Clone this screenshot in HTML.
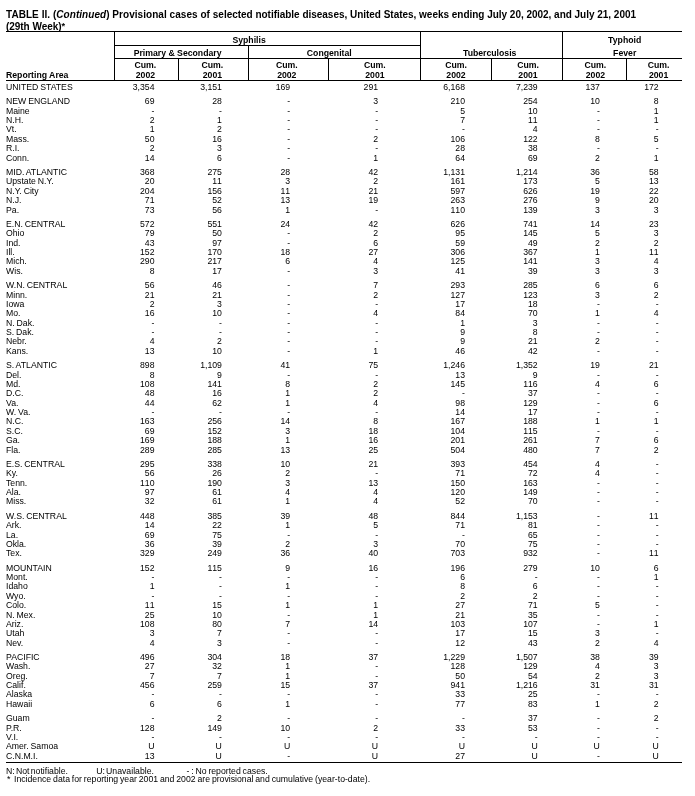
<!DOCTYPE html>
<html><head><meta charset="utf-8"><title>TABLE II</title>
<style>

html,body{margin:0;padding:0;background:#fff;}
body{width:695px;height:796px;position:relative;overflow:hidden;will-change:transform;font-family:"Liberation Sans",sans-serif;color:#000;}
.t{position:absolute;white-space:pre;}
.b{font-size:8.7px;line-height:10.0px;height:10.0px;color:#000;}
.l{left:6.0px;word-spacing:-0.55px;}
.n{text-align:right;width:60px;font-kerning:none;}
.u{margin-left:0px;}
.h{font-weight:bold;font-size:8.7px;line-height:10px;text-align:center;}
.hl{position:absolute;background:#000;height:1px;}
.vl{position:absolute;background:#000;width:1px;}
.title{font-weight:bold;font-size:10px;line-height:11px;}
.f{font-size:8.7px;line-height:10px;word-spacing:-0.55px;}

.c0{left:94.50px;}
.c1{left:161.90px;}
.c2{left:230.20px;}
.c3{left:318.10px;}
.c4{left:405.00px;}
.c5{left:477.70px;}
.c6{left:539.90px;}
.c7{left:598.70px;}
</style></head><body>
<div class="t title" style="left:6px;top:8.5px"><span style="letter-spacing:0.045px">TABLE II. (<i>Continued</i>) Provisional cases of </span><span style="letter-spacing:-0.022px">selected notifiable diseases, United States, weeks ending July 20, 2002, and July 21, 2001</span></div>
<div class="t title" style="left:6px;top:20.5px"><span style="letter-spacing:-0.04px">(29th Week)</span><span style="font-size:9.2px;position:relative;top:-0.6px">*</span></div>
<div class="hl" style="left:6.00px;width:676.30px;top:31.20px;height:1.00px"></div>
<div class="hl" style="left:114.20px;width:306.80px;top:45.00px;height:1.00px"></div>
<div class="hl" style="left:114.20px;width:568.10px;top:58.30px;height:1.00px"></div>
<div class="hl" style="left:6.00px;width:676.30px;top:79.60px;height:1.00px"></div>
<div class="hl" style="left:6.00px;width:676.30px;top:762.00px;height:1.00px"></div>
<div class="vl" style="left:113.70px;top:31.20px;height:49.00px;width:1.00px"></div>
<div class="vl" style="left:420.40px;top:31.20px;height:49.00px;width:1.00px"></div>
<div class="vl" style="left:562.20px;top:31.20px;height:49.00px;width:1.00px"></div>
<div class="vl" style="left:247.60px;top:45.00px;height:35.20px;width:1.00px"></div>
<div class="vl" style="left:177.50px;top:58.30px;height:21.90px;width:1.00px"></div>
<div class="vl" style="left:328.10px;top:58.30px;height:21.90px;width:1.00px"></div>
<div class="vl" style="left:490.90px;top:58.30px;height:21.90px;width:1.00px"></div>
<div class="vl" style="left:626.30px;top:58.30px;height:21.90px;width:1.00px"></div>
<div class="t h" style="left:179.10px;width:140px;top:34.89px">Syphilis</div>
<div class="t h" style="left:107.60px;width:140px;top:48.19px">Primary &amp; Secondary</div>
<div class="t h" style="left:259.30px;width:140px;top:48.19px">Congenital</div>
<div class="t h" style="left:419.70px;width:140px;top:48.19px">Tuberculosis</div>
<div class="t h" style="left:554.70px;width:140px;top:35.49px">Typhoid</div>
<div class="t h" style="left:554.70px;width:140px;top:48.19px">Fever</div>
<div class="t h" style="left:115.40px;width:60px;top:60.39px">Cum.</div>
<div class="t h" style="left:115.40px;width:60px;top:69.59px">2002</div>
<div class="t h" style="left:182.40px;width:60px;top:60.39px">Cum.</div>
<div class="t h" style="left:182.40px;width:60px;top:69.59px">2001</div>
<div class="t h" style="left:256.80px;width:60px;top:60.39px">Cum.</div>
<div class="t h" style="left:256.80px;width:60px;top:69.59px">2002</div>
<div class="t h" style="left:344.90px;width:60px;top:60.39px">Cum.</div>
<div class="t h" style="left:344.90px;width:60px;top:69.59px">2001</div>
<div class="t h" style="left:426.00px;width:60px;top:60.39px">Cum.</div>
<div class="t h" style="left:426.00px;width:60px;top:69.59px">2002</div>
<div class="t h" style="left:498.00px;width:60px;top:60.39px">Cum.</div>
<div class="t h" style="left:498.00px;width:60px;top:69.59px">2001</div>
<div class="t h" style="left:565.40px;width:60px;top:60.39px">Cum.</div>
<div class="t h" style="left:565.40px;width:60px;top:69.59px">2002</div>
<div class="t h" style="left:628.60px;width:60px;top:60.39px">Cum.</div>
<div class="t h" style="left:628.60px;width:60px;top:69.59px">2001</div>
<div class="t h" style="left:6px;top:69.59px;text-align:left">Reporting Area</div>
<div class="t b l" style="top:81.99px">UNITED STATES</div>
<div class="t b n c0" style="top:81.99px">3,354</div>
<div class="t b n c1" style="top:81.99px">3,151</div>
<div class="t b n c2" style="top:81.99px">169</div>
<div class="t b n c3" style="top:81.99px">291</div>
<div class="t b n c4" style="top:81.99px">6,168</div>
<div class="t b n c5" style="top:81.99px">7,239</div>
<div class="t b n c6" style="top:81.99px">137</div>
<div class="t b n c7" style="top:81.99px">172</div>
<div class="t b l" style="top:96.24px">NEW ENGLAND</div>
<div class="t b n c0" style="top:96.24px">69</div>
<div class="t b n c1" style="top:96.24px">28</div>
<div class="t b n c2" style="top:96.24px">-</div>
<div class="t b n c3" style="top:96.24px">3</div>
<div class="t b n c4" style="top:96.24px">210</div>
<div class="t b n c5" style="top:96.24px">254</div>
<div class="t b n c6" style="top:96.24px">10</div>
<div class="t b n c7" style="top:96.24px">8</div>
<div class="t b l" style="top:105.64px">Maine</div>
<div class="t b n c0" style="top:105.64px">-</div>
<div class="t b n c1" style="top:105.64px">-</div>
<div class="t b n c2" style="top:105.64px">-</div>
<div class="t b n c3" style="top:105.64px">-</div>
<div class="t b n c4" style="top:105.64px">5</div>
<div class="t b n c5" style="top:105.64px">10</div>
<div class="t b n c6" style="top:105.64px">-</div>
<div class="t b n c7" style="top:105.64px">1</div>
<div class="t b l" style="top:115.04px">N.H.</div>
<div class="t b n c0" style="top:115.04px">2</div>
<div class="t b n c1" style="top:115.04px">1</div>
<div class="t b n c2" style="top:115.04px">-</div>
<div class="t b n c3" style="top:115.04px">-</div>
<div class="t b n c4" style="top:115.04px">7</div>
<div class="t b n c5" style="top:115.04px">11</div>
<div class="t b n c6" style="top:115.04px">-</div>
<div class="t b n c7" style="top:115.04px">1</div>
<div class="t b l" style="top:124.44px">Vt.</div>
<div class="t b n c0" style="top:124.44px">1</div>
<div class="t b n c1" style="top:124.44px">2</div>
<div class="t b n c2" style="top:124.44px">-</div>
<div class="t b n c3" style="top:124.44px">-</div>
<div class="t b n c4" style="top:124.44px">-</div>
<div class="t b n c5" style="top:124.44px">4</div>
<div class="t b n c6" style="top:124.44px">-</div>
<div class="t b n c7" style="top:124.44px">-</div>
<div class="t b l" style="top:133.84px">Mass.</div>
<div class="t b n c0" style="top:133.84px">50</div>
<div class="t b n c1" style="top:133.84px">16</div>
<div class="t b n c2" style="top:133.84px">-</div>
<div class="t b n c3" style="top:133.84px">2</div>
<div class="t b n c4" style="top:133.84px">106</div>
<div class="t b n c5" style="top:133.84px">122</div>
<div class="t b n c6" style="top:133.84px">8</div>
<div class="t b n c7" style="top:133.84px">5</div>
<div class="t b l" style="top:143.24px">R.I.</div>
<div class="t b n c0" style="top:143.24px">2</div>
<div class="t b n c1" style="top:143.24px">3</div>
<div class="t b n c2" style="top:143.24px">-</div>
<div class="t b n c3" style="top:143.24px">-</div>
<div class="t b n c4" style="top:143.24px">28</div>
<div class="t b n c5" style="top:143.24px">38</div>
<div class="t b n c6" style="top:143.24px">-</div>
<div class="t b n c7" style="top:143.24px">-</div>
<div class="t b l" style="top:152.64px">Conn.</div>
<div class="t b n c0" style="top:152.64px">14</div>
<div class="t b n c1" style="top:152.64px">6</div>
<div class="t b n c2" style="top:152.64px">-</div>
<div class="t b n c3" style="top:152.64px">1</div>
<div class="t b n c4" style="top:152.64px">64</div>
<div class="t b n c5" style="top:152.64px">69</div>
<div class="t b n c6" style="top:152.64px">2</div>
<div class="t b n c7" style="top:152.64px">1</div>
<div class="t b l" style="top:166.89px">MID. ATLANTIC</div>
<div class="t b n c0" style="top:166.89px">368</div>
<div class="t b n c1" style="top:166.89px">275</div>
<div class="t b n c2" style="top:166.89px">28</div>
<div class="t b n c3" style="top:166.89px">42</div>
<div class="t b n c4" style="top:166.89px">1,131</div>
<div class="t b n c5" style="top:166.89px">1,214</div>
<div class="t b n c6" style="top:166.89px">36</div>
<div class="t b n c7" style="top:166.89px">58</div>
<div class="t b l" style="top:176.29px">Upstate N.Y.</div>
<div class="t b n c0" style="top:176.29px">20</div>
<div class="t b n c1" style="top:176.29px">11</div>
<div class="t b n c2" style="top:176.29px">3</div>
<div class="t b n c3" style="top:176.29px">2</div>
<div class="t b n c4" style="top:176.29px">161</div>
<div class="t b n c5" style="top:176.29px">173</div>
<div class="t b n c6" style="top:176.29px">5</div>
<div class="t b n c7" style="top:176.29px">13</div>
<div class="t b l" style="top:185.69px">N.Y. City</div>
<div class="t b n c0" style="top:185.69px">204</div>
<div class="t b n c1" style="top:185.69px">156</div>
<div class="t b n c2" style="top:185.69px">11</div>
<div class="t b n c3" style="top:185.69px">21</div>
<div class="t b n c4" style="top:185.69px">597</div>
<div class="t b n c5" style="top:185.69px">626</div>
<div class="t b n c6" style="top:185.69px">19</div>
<div class="t b n c7" style="top:185.69px">22</div>
<div class="t b l" style="top:195.09px">N.J.</div>
<div class="t b n c0" style="top:195.09px">71</div>
<div class="t b n c1" style="top:195.09px">52</div>
<div class="t b n c2" style="top:195.09px">13</div>
<div class="t b n c3" style="top:195.09px">19</div>
<div class="t b n c4" style="top:195.09px">263</div>
<div class="t b n c5" style="top:195.09px">276</div>
<div class="t b n c6" style="top:195.09px">9</div>
<div class="t b n c7" style="top:195.09px">20</div>
<div class="t b l" style="top:205.49px">Pa.</div>
<div class="t b n c0" style="top:205.49px">73</div>
<div class="t b n c1" style="top:205.49px">56</div>
<div class="t b n c2" style="top:205.49px">1</div>
<div class="t b n c3" style="top:205.49px">-</div>
<div class="t b n c4" style="top:205.49px">110</div>
<div class="t b n c5" style="top:205.49px">139</div>
<div class="t b n c6" style="top:205.49px">3</div>
<div class="t b n c7" style="top:205.49px">3</div>
<div class="t b l" style="top:218.74px">E.N. CENTRAL</div>
<div class="t b n c0" style="top:218.74px">572</div>
<div class="t b n c1" style="top:218.74px">551</div>
<div class="t b n c2" style="top:218.74px">24</div>
<div class="t b n c3" style="top:218.74px">42</div>
<div class="t b n c4" style="top:218.74px">626</div>
<div class="t b n c5" style="top:218.74px">741</div>
<div class="t b n c6" style="top:218.74px">14</div>
<div class="t b n c7" style="top:218.74px">23</div>
<div class="t b l" style="top:228.14px">Ohio</div>
<div class="t b n c0" style="top:228.14px">79</div>
<div class="t b n c1" style="top:228.14px">50</div>
<div class="t b n c2" style="top:228.14px">-</div>
<div class="t b n c3" style="top:228.14px">2</div>
<div class="t b n c4" style="top:228.14px">95</div>
<div class="t b n c5" style="top:228.14px">145</div>
<div class="t b n c6" style="top:228.14px">5</div>
<div class="t b n c7" style="top:228.14px">3</div>
<div class="t b l" style="top:237.54px">Ind.</div>
<div class="t b n c0" style="top:237.54px">43</div>
<div class="t b n c1" style="top:237.54px">97</div>
<div class="t b n c2" style="top:237.54px">-</div>
<div class="t b n c3" style="top:237.54px">6</div>
<div class="t b n c4" style="top:237.54px">59</div>
<div class="t b n c5" style="top:237.54px">49</div>
<div class="t b n c6" style="top:237.54px">2</div>
<div class="t b n c7" style="top:237.54px">2</div>
<div class="t b l" style="top:246.94px">Ill.</div>
<div class="t b n c0" style="top:246.94px">152</div>
<div class="t b n c1" style="top:246.94px">170</div>
<div class="t b n c2" style="top:246.94px">18</div>
<div class="t b n c3" style="top:246.94px">27</div>
<div class="t b n c4" style="top:246.94px">306</div>
<div class="t b n c5" style="top:246.94px">367</div>
<div class="t b n c6" style="top:246.94px">1</div>
<div class="t b n c7" style="top:246.94px">11</div>
<div class="t b l" style="top:256.34px">Mich.</div>
<div class="t b n c0" style="top:256.34px">290</div>
<div class="t b n c1" style="top:256.34px">217</div>
<div class="t b n c2" style="top:256.34px">6</div>
<div class="t b n c3" style="top:256.34px">4</div>
<div class="t b n c4" style="top:256.34px">125</div>
<div class="t b n c5" style="top:256.34px">141</div>
<div class="t b n c6" style="top:256.34px">3</div>
<div class="t b n c7" style="top:256.34px">4</div>
<div class="t b l" style="top:265.74px">Wis.</div>
<div class="t b n c0" style="top:265.74px">8</div>
<div class="t b n c1" style="top:265.74px">17</div>
<div class="t b n c2" style="top:265.74px">-</div>
<div class="t b n c3" style="top:265.74px">3</div>
<div class="t b n c4" style="top:265.74px">41</div>
<div class="t b n c5" style="top:265.74px">39</div>
<div class="t b n c6" style="top:265.74px">3</div>
<div class="t b n c7" style="top:265.74px">3</div>
<div class="t b l" style="top:279.99px">W.N. CENTRAL</div>
<div class="t b n c0" style="top:279.99px">56</div>
<div class="t b n c1" style="top:279.99px">46</div>
<div class="t b n c2" style="top:279.99px">-</div>
<div class="t b n c3" style="top:279.99px">7</div>
<div class="t b n c4" style="top:279.99px">293</div>
<div class="t b n c5" style="top:279.99px">285</div>
<div class="t b n c6" style="top:279.99px">6</div>
<div class="t b n c7" style="top:279.99px">6</div>
<div class="t b l" style="top:290.39px">Minn.</div>
<div class="t b n c0" style="top:290.39px">21</div>
<div class="t b n c1" style="top:290.39px">21</div>
<div class="t b n c2" style="top:290.39px">-</div>
<div class="t b n c3" style="top:290.39px">2</div>
<div class="t b n c4" style="top:290.39px">127</div>
<div class="t b n c5" style="top:290.39px">123</div>
<div class="t b n c6" style="top:290.39px">3</div>
<div class="t b n c7" style="top:290.39px">2</div>
<div class="t b l" style="top:298.79px">Iowa</div>
<div class="t b n c0" style="top:298.79px">2</div>
<div class="t b n c1" style="top:298.79px">3</div>
<div class="t b n c2" style="top:298.79px">-</div>
<div class="t b n c3" style="top:298.79px">-</div>
<div class="t b n c4" style="top:298.79px">17</div>
<div class="t b n c5" style="top:298.79px">18</div>
<div class="t b n c6" style="top:298.79px">-</div>
<div class="t b n c7" style="top:298.79px">-</div>
<div class="t b l" style="top:308.19px">Mo.</div>
<div class="t b n c0" style="top:308.19px">16</div>
<div class="t b n c1" style="top:308.19px">10</div>
<div class="t b n c2" style="top:308.19px">-</div>
<div class="t b n c3" style="top:308.19px">4</div>
<div class="t b n c4" style="top:308.19px">84</div>
<div class="t b n c5" style="top:308.19px">70</div>
<div class="t b n c6" style="top:308.19px">1</div>
<div class="t b n c7" style="top:308.19px">4</div>
<div class="t b l" style="top:317.59px">N. Dak.</div>
<div class="t b n c0" style="top:317.59px">-</div>
<div class="t b n c1" style="top:317.59px">-</div>
<div class="t b n c2" style="top:317.59px">-</div>
<div class="t b n c3" style="top:317.59px">-</div>
<div class="t b n c4" style="top:317.59px">1</div>
<div class="t b n c5" style="top:317.59px">3</div>
<div class="t b n c6" style="top:317.59px">-</div>
<div class="t b n c7" style="top:317.59px">-</div>
<div class="t b l" style="top:326.99px">S. Dak.</div>
<div class="t b n c0" style="top:326.99px">-</div>
<div class="t b n c1" style="top:326.99px">-</div>
<div class="t b n c2" style="top:326.99px">-</div>
<div class="t b n c3" style="top:326.99px">-</div>
<div class="t b n c4" style="top:326.99px">9</div>
<div class="t b n c5" style="top:326.99px">8</div>
<div class="t b n c6" style="top:326.99px">-</div>
<div class="t b n c7" style="top:326.99px">-</div>
<div class="t b l" style="top:336.39px">Nebr.</div>
<div class="t b n c0" style="top:336.39px">4</div>
<div class="t b n c1" style="top:336.39px">2</div>
<div class="t b n c2" style="top:336.39px">-</div>
<div class="t b n c3" style="top:336.39px">-</div>
<div class="t b n c4" style="top:336.39px">9</div>
<div class="t b n c5" style="top:336.39px">21</div>
<div class="t b n c6" style="top:336.39px">2</div>
<div class="t b n c7" style="top:336.39px">-</div>
<div class="t b l" style="top:345.79px">Kans.</div>
<div class="t b n c0" style="top:345.79px">13</div>
<div class="t b n c1" style="top:345.79px">10</div>
<div class="t b n c2" style="top:345.79px">-</div>
<div class="t b n c3" style="top:345.79px">1</div>
<div class="t b n c4" style="top:345.79px">46</div>
<div class="t b n c5" style="top:345.79px">42</div>
<div class="t b n c6" style="top:345.79px">-</div>
<div class="t b n c7" style="top:345.79px">-</div>
<div class="t b l" style="top:360.04px">S. ATLANTIC</div>
<div class="t b n c0" style="top:360.04px">898</div>
<div class="t b n c1" style="top:360.04px">1,109</div>
<div class="t b n c2" style="top:360.04px">41</div>
<div class="t b n c3" style="top:360.04px">75</div>
<div class="t b n c4" style="top:360.04px">1,246</div>
<div class="t b n c5" style="top:360.04px">1,352</div>
<div class="t b n c6" style="top:360.04px">19</div>
<div class="t b n c7" style="top:360.04px">21</div>
<div class="t b l" style="top:370.44px">Del.</div>
<div class="t b n c0" style="top:370.44px">8</div>
<div class="t b n c1" style="top:370.44px">9</div>
<div class="t b n c2" style="top:370.44px">-</div>
<div class="t b n c3" style="top:370.44px">-</div>
<div class="t b n c4" style="top:370.44px">13</div>
<div class="t b n c5" style="top:370.44px">9</div>
<div class="t b n c6" style="top:370.44px">-</div>
<div class="t b n c7" style="top:370.44px">-</div>
<div class="t b l" style="top:378.84px">Md.</div>
<div class="t b n c0" style="top:378.84px">108</div>
<div class="t b n c1" style="top:378.84px">141</div>
<div class="t b n c2" style="top:378.84px">8</div>
<div class="t b n c3" style="top:378.84px">2</div>
<div class="t b n c4" style="top:378.84px">145</div>
<div class="t b n c5" style="top:378.84px">116</div>
<div class="t b n c6" style="top:378.84px">4</div>
<div class="t b n c7" style="top:378.84px">6</div>
<div class="t b l" style="top:388.24px">D.C.</div>
<div class="t b n c0" style="top:388.24px">48</div>
<div class="t b n c1" style="top:388.24px">16</div>
<div class="t b n c2" style="top:388.24px">1</div>
<div class="t b n c3" style="top:388.24px">2</div>
<div class="t b n c4" style="top:388.24px">-</div>
<div class="t b n c5" style="top:388.24px">37</div>
<div class="t b n c6" style="top:388.24px">-</div>
<div class="t b n c7" style="top:388.24px">-</div>
<div class="t b l" style="top:397.64px">Va.</div>
<div class="t b n c0" style="top:397.64px">44</div>
<div class="t b n c1" style="top:397.64px">62</div>
<div class="t b n c2" style="top:397.64px">1</div>
<div class="t b n c3" style="top:397.64px">4</div>
<div class="t b n c4" style="top:397.64px">98</div>
<div class="t b n c5" style="top:397.64px">129</div>
<div class="t b n c6" style="top:397.64px">-</div>
<div class="t b n c7" style="top:397.64px">6</div>
<div class="t b l" style="top:407.04px">W. Va.</div>
<div class="t b n c0" style="top:407.04px">-</div>
<div class="t b n c1" style="top:407.04px">-</div>
<div class="t b n c2" style="top:407.04px">-</div>
<div class="t b n c3" style="top:407.04px">-</div>
<div class="t b n c4" style="top:407.04px">14</div>
<div class="t b n c5" style="top:407.04px">17</div>
<div class="t b n c6" style="top:407.04px">-</div>
<div class="t b n c7" style="top:407.04px">-</div>
<div class="t b l" style="top:416.44px">N.C.</div>
<div class="t b n c0" style="top:416.44px">163</div>
<div class="t b n c1" style="top:416.44px">256</div>
<div class="t b n c2" style="top:416.44px">14</div>
<div class="t b n c3" style="top:416.44px">8</div>
<div class="t b n c4" style="top:416.44px">167</div>
<div class="t b n c5" style="top:416.44px">188</div>
<div class="t b n c6" style="top:416.44px">1</div>
<div class="t b n c7" style="top:416.44px">1</div>
<div class="t b l" style="top:425.84px">S.C.</div>
<div class="t b n c0" style="top:425.84px">69</div>
<div class="t b n c1" style="top:425.84px">152</div>
<div class="t b n c2" style="top:425.84px">3</div>
<div class="t b n c3" style="top:425.84px">18</div>
<div class="t b n c4" style="top:425.84px">104</div>
<div class="t b n c5" style="top:425.84px">115</div>
<div class="t b n c6" style="top:425.84px">-</div>
<div class="t b n c7" style="top:425.84px">-</div>
<div class="t b l" style="top:435.24px">Ga.</div>
<div class="t b n c0" style="top:435.24px">169</div>
<div class="t b n c1" style="top:435.24px">188</div>
<div class="t b n c2" style="top:435.24px">1</div>
<div class="t b n c3" style="top:435.24px">16</div>
<div class="t b n c4" style="top:435.24px">201</div>
<div class="t b n c5" style="top:435.24px">261</div>
<div class="t b n c6" style="top:435.24px">7</div>
<div class="t b n c7" style="top:435.24px">6</div>
<div class="t b l" style="top:444.64px">Fla.</div>
<div class="t b n c0" style="top:444.64px">289</div>
<div class="t b n c1" style="top:444.64px">285</div>
<div class="t b n c2" style="top:444.64px">13</div>
<div class="t b n c3" style="top:444.64px">25</div>
<div class="t b n c4" style="top:444.64px">504</div>
<div class="t b n c5" style="top:444.64px">480</div>
<div class="t b n c6" style="top:444.64px">7</div>
<div class="t b n c7" style="top:444.64px">2</div>
<div class="t b l" style="top:458.89px">E.S. CENTRAL</div>
<div class="t b n c0" style="top:458.89px">295</div>
<div class="t b n c1" style="top:458.89px">338</div>
<div class="t b n c2" style="top:458.89px">10</div>
<div class="t b n c3" style="top:458.89px">21</div>
<div class="t b n c4" style="top:458.89px">393</div>
<div class="t b n c5" style="top:458.89px">454</div>
<div class="t b n c6" style="top:458.89px">4</div>
<div class="t b n c7" style="top:458.89px">-</div>
<div class="t b l" style="top:468.29px">Ky.</div>
<div class="t b n c0" style="top:468.29px">56</div>
<div class="t b n c1" style="top:468.29px">26</div>
<div class="t b n c2" style="top:468.29px">2</div>
<div class="t b n c3" style="top:468.29px">-</div>
<div class="t b n c4" style="top:468.29px">71</div>
<div class="t b n c5" style="top:468.29px">72</div>
<div class="t b n c6" style="top:468.29px">4</div>
<div class="t b n c7" style="top:468.29px">-</div>
<div class="t b l" style="top:477.69px">Tenn.</div>
<div class="t b n c0" style="top:477.69px">110</div>
<div class="t b n c1" style="top:477.69px">190</div>
<div class="t b n c2" style="top:477.69px">3</div>
<div class="t b n c3" style="top:477.69px">13</div>
<div class="t b n c4" style="top:477.69px">150</div>
<div class="t b n c5" style="top:477.69px">163</div>
<div class="t b n c6" style="top:477.69px">-</div>
<div class="t b n c7" style="top:477.69px">-</div>
<div class="t b l" style="top:487.09px">Ala.</div>
<div class="t b n c0" style="top:487.09px">97</div>
<div class="t b n c1" style="top:487.09px">61</div>
<div class="t b n c2" style="top:487.09px">4</div>
<div class="t b n c3" style="top:487.09px">4</div>
<div class="t b n c4" style="top:487.09px">120</div>
<div class="t b n c5" style="top:487.09px">149</div>
<div class="t b n c6" style="top:487.09px">-</div>
<div class="t b n c7" style="top:487.09px">-</div>
<div class="t b l" style="top:496.49px">Miss.</div>
<div class="t b n c0" style="top:496.49px">32</div>
<div class="t b n c1" style="top:496.49px">61</div>
<div class="t b n c2" style="top:496.49px">1</div>
<div class="t b n c3" style="top:496.49px">4</div>
<div class="t b n c4" style="top:496.49px">52</div>
<div class="t b n c5" style="top:496.49px">70</div>
<div class="t b n c6" style="top:496.49px">-</div>
<div class="t b n c7" style="top:496.49px">-</div>
<div class="t b l" style="top:510.74px">W.S. CENTRAL</div>
<div class="t b n c0" style="top:510.74px">448</div>
<div class="t b n c1" style="top:510.74px">385</div>
<div class="t b n c2" style="top:510.74px">39</div>
<div class="t b n c3" style="top:510.74px">48</div>
<div class="t b n c4" style="top:510.74px">844</div>
<div class="t b n c5" style="top:510.74px">1,153</div>
<div class="t b n c6" style="top:510.74px">-</div>
<div class="t b n c7" style="top:510.74px">11</div>
<div class="t b l" style="top:520.14px">Ark.</div>
<div class="t b n c0" style="top:520.14px">14</div>
<div class="t b n c1" style="top:520.14px">22</div>
<div class="t b n c2" style="top:520.14px">1</div>
<div class="t b n c3" style="top:520.14px">5</div>
<div class="t b n c4" style="top:520.14px">71</div>
<div class="t b n c5" style="top:520.14px">81</div>
<div class="t b n c6" style="top:520.14px">-</div>
<div class="t b n c7" style="top:520.14px">-</div>
<div class="t b l" style="top:529.54px">La.</div>
<div class="t b n c0" style="top:529.54px">69</div>
<div class="t b n c1" style="top:529.54px">75</div>
<div class="t b n c2" style="top:529.54px">-</div>
<div class="t b n c3" style="top:529.54px">-</div>
<div class="t b n c4" style="top:529.54px">-</div>
<div class="t b n c5" style="top:529.54px">65</div>
<div class="t b n c6" style="top:529.54px">-</div>
<div class="t b n c7" style="top:529.54px">-</div>
<div class="t b l" style="top:538.94px">Okla.</div>
<div class="t b n c0" style="top:538.94px">36</div>
<div class="t b n c1" style="top:538.94px">39</div>
<div class="t b n c2" style="top:538.94px">2</div>
<div class="t b n c3" style="top:538.94px">3</div>
<div class="t b n c4" style="top:538.94px">70</div>
<div class="t b n c5" style="top:538.94px">75</div>
<div class="t b n c6" style="top:538.94px">-</div>
<div class="t b n c7" style="top:538.94px">-</div>
<div class="t b l" style="top:548.34px">Tex.</div>
<div class="t b n c0" style="top:548.34px">329</div>
<div class="t b n c1" style="top:548.34px">249</div>
<div class="t b n c2" style="top:548.34px">36</div>
<div class="t b n c3" style="top:548.34px">40</div>
<div class="t b n c4" style="top:548.34px">703</div>
<div class="t b n c5" style="top:548.34px">932</div>
<div class="t b n c6" style="top:548.34px">-</div>
<div class="t b n c7" style="top:548.34px">11</div>
<div class="t b l" style="top:562.59px">MOUNTAIN</div>
<div class="t b n c0" style="top:562.59px">152</div>
<div class="t b n c1" style="top:562.59px">115</div>
<div class="t b n c2" style="top:562.59px">9</div>
<div class="t b n c3" style="top:562.59px">16</div>
<div class="t b n c4" style="top:562.59px">196</div>
<div class="t b n c5" style="top:562.59px">279</div>
<div class="t b n c6" style="top:562.59px">10</div>
<div class="t b n c7" style="top:562.59px">6</div>
<div class="t b l" style="top:571.99px">Mont.</div>
<div class="t b n c0" style="top:571.99px">-</div>
<div class="t b n c1" style="top:571.99px">-</div>
<div class="t b n c2" style="top:571.99px">-</div>
<div class="t b n c3" style="top:571.99px">-</div>
<div class="t b n c4" style="top:571.99px">6</div>
<div class="t b n c5" style="top:571.99px">-</div>
<div class="t b n c6" style="top:571.99px">-</div>
<div class="t b n c7" style="top:571.99px">1</div>
<div class="t b l" style="top:581.39px">Idaho</div>
<div class="t b n c0" style="top:581.39px">1</div>
<div class="t b n c1" style="top:581.39px">-</div>
<div class="t b n c2" style="top:581.39px">1</div>
<div class="t b n c3" style="top:581.39px">-</div>
<div class="t b n c4" style="top:581.39px">8</div>
<div class="t b n c5" style="top:581.39px">6</div>
<div class="t b n c6" style="top:581.39px">-</div>
<div class="t b n c7" style="top:581.39px">-</div>
<div class="t b l" style="top:590.79px">Wyo.</div>
<div class="t b n c0" style="top:590.79px">-</div>
<div class="t b n c1" style="top:590.79px">-</div>
<div class="t b n c2" style="top:590.79px">-</div>
<div class="t b n c3" style="top:590.79px">-</div>
<div class="t b n c4" style="top:590.79px">2</div>
<div class="t b n c5" style="top:590.79px">2</div>
<div class="t b n c6" style="top:590.79px">-</div>
<div class="t b n c7" style="top:590.79px">-</div>
<div class="t b l" style="top:600.19px">Colo.</div>
<div class="t b n c0" style="top:600.19px">11</div>
<div class="t b n c1" style="top:600.19px">15</div>
<div class="t b n c2" style="top:600.19px">1</div>
<div class="t b n c3" style="top:600.19px">1</div>
<div class="t b n c4" style="top:600.19px">27</div>
<div class="t b n c5" style="top:600.19px">71</div>
<div class="t b n c6" style="top:600.19px">5</div>
<div class="t b n c7" style="top:600.19px">-</div>
<div class="t b l" style="top:609.59px">N. Mex.</div>
<div class="t b n c0" style="top:609.59px">25</div>
<div class="t b n c1" style="top:609.59px">10</div>
<div class="t b n c2" style="top:609.59px">-</div>
<div class="t b n c3" style="top:609.59px">1</div>
<div class="t b n c4" style="top:609.59px">21</div>
<div class="t b n c5" style="top:609.59px">35</div>
<div class="t b n c6" style="top:609.59px">-</div>
<div class="t b n c7" style="top:609.59px">-</div>
<div class="t b l" style="top:618.99px">Ariz.</div>
<div class="t b n c0" style="top:618.99px">108</div>
<div class="t b n c1" style="top:618.99px">80</div>
<div class="t b n c2" style="top:618.99px">7</div>
<div class="t b n c3" style="top:618.99px">14</div>
<div class="t b n c4" style="top:618.99px">103</div>
<div class="t b n c5" style="top:618.99px">107</div>
<div class="t b n c6" style="top:618.99px">-</div>
<div class="t b n c7" style="top:618.99px">1</div>
<div class="t b l" style="top:628.39px">Utah</div>
<div class="t b n c0" style="top:628.39px">3</div>
<div class="t b n c1" style="top:628.39px">7</div>
<div class="t b n c2" style="top:628.39px">-</div>
<div class="t b n c3" style="top:628.39px">-</div>
<div class="t b n c4" style="top:628.39px">17</div>
<div class="t b n c5" style="top:628.39px">15</div>
<div class="t b n c6" style="top:628.39px">3</div>
<div class="t b n c7" style="top:628.39px">-</div>
<div class="t b l" style="top:637.79px">Nev.</div>
<div class="t b n c0" style="top:637.79px">4</div>
<div class="t b n c1" style="top:637.79px">3</div>
<div class="t b n c2" style="top:637.79px">-</div>
<div class="t b n c3" style="top:637.79px">-</div>
<div class="t b n c4" style="top:637.79px">12</div>
<div class="t b n c5" style="top:637.79px">43</div>
<div class="t b n c6" style="top:637.79px">2</div>
<div class="t b n c7" style="top:637.79px">4</div>
<div class="t b l" style="top:652.04px">PACIFIC</div>
<div class="t b n c0" style="top:652.04px">496</div>
<div class="t b n c1" style="top:652.04px">304</div>
<div class="t b n c2" style="top:652.04px">18</div>
<div class="t b n c3" style="top:652.04px">37</div>
<div class="t b n c4" style="top:652.04px">1,229</div>
<div class="t b n c5" style="top:652.04px">1,507</div>
<div class="t b n c6" style="top:652.04px">38</div>
<div class="t b n c7" style="top:652.04px">39</div>
<div class="t b l" style="top:661.44px">Wash.</div>
<div class="t b n c0" style="top:661.44px">27</div>
<div class="t b n c1" style="top:661.44px">32</div>
<div class="t b n c2" style="top:661.44px">1</div>
<div class="t b n c3" style="top:661.44px">-</div>
<div class="t b n c4" style="top:661.44px">128</div>
<div class="t b n c5" style="top:661.44px">129</div>
<div class="t b n c6" style="top:661.44px">4</div>
<div class="t b n c7" style="top:661.44px">3</div>
<div class="t b l" style="top:670.84px">Oreg.</div>
<div class="t b n c0" style="top:670.84px">7</div>
<div class="t b n c1" style="top:670.84px">7</div>
<div class="t b n c2" style="top:670.84px">1</div>
<div class="t b n c3" style="top:670.84px">-</div>
<div class="t b n c4" style="top:670.84px">50</div>
<div class="t b n c5" style="top:670.84px">54</div>
<div class="t b n c6" style="top:670.84px">2</div>
<div class="t b n c7" style="top:670.84px">3</div>
<div class="t b l" style="top:680.24px">Calif.</div>
<div class="t b n c0" style="top:680.24px">456</div>
<div class="t b n c1" style="top:680.24px">259</div>
<div class="t b n c2" style="top:680.24px">15</div>
<div class="t b n c3" style="top:680.24px">37</div>
<div class="t b n c4" style="top:680.24px">941</div>
<div class="t b n c5" style="top:680.24px">1,216</div>
<div class="t b n c6" style="top:680.24px">31</div>
<div class="t b n c7" style="top:680.24px">31</div>
<div class="t b l" style="top:688.64px">Alaska</div>
<div class="t b n c0" style="top:688.64px">-</div>
<div class="t b n c1" style="top:688.64px">-</div>
<div class="t b n c2" style="top:688.64px">-</div>
<div class="t b n c3" style="top:688.64px">-</div>
<div class="t b n c4" style="top:688.64px">33</div>
<div class="t b n c5" style="top:688.64px">25</div>
<div class="t b n c6" style="top:688.64px">-</div>
<div class="t b n c7" style="top:688.64px">-</div>
<div class="t b l" style="top:699.04px">Hawaii</div>
<div class="t b n c0" style="top:699.04px">6</div>
<div class="t b n c1" style="top:699.04px">6</div>
<div class="t b n c2" style="top:699.04px">1</div>
<div class="t b n c3" style="top:699.04px">-</div>
<div class="t b n c4" style="top:699.04px">77</div>
<div class="t b n c5" style="top:699.04px">83</div>
<div class="t b n c6" style="top:699.04px">1</div>
<div class="t b n c7" style="top:699.04px">2</div>
<div class="t b l" style="top:713.29px">Guam</div>
<div class="t b n c0" style="top:713.29px">-</div>
<div class="t b n c1" style="top:713.29px">2</div>
<div class="t b n c2" style="top:713.29px">-</div>
<div class="t b n c3" style="top:713.29px">-</div>
<div class="t b n c4" style="top:713.29px">-</div>
<div class="t b n c5" style="top:713.29px">37</div>
<div class="t b n c6" style="top:713.29px">-</div>
<div class="t b n c7" style="top:713.29px">2</div>
<div class="t b l" style="top:722.69px">P.R.</div>
<div class="t b n c0" style="top:722.69px">128</div>
<div class="t b n c1" style="top:722.69px">149</div>
<div class="t b n c2" style="top:722.69px">10</div>
<div class="t b n c3" style="top:722.69px">2</div>
<div class="t b n c4" style="top:722.69px">33</div>
<div class="t b n c5" style="top:722.69px">53</div>
<div class="t b n c6" style="top:722.69px">-</div>
<div class="t b n c7" style="top:722.69px">-</div>
<div class="t b l" style="top:732.09px">V.I.</div>
<div class="t b n c0" style="top:732.09px">-</div>
<div class="t b n c1" style="top:732.09px">-</div>
<div class="t b n c2" style="top:732.09px">-</div>
<div class="t b n c3" style="top:732.09px">-</div>
<div class="t b n c4" style="top:732.09px">-</div>
<div class="t b n c5" style="top:732.09px">-</div>
<div class="t b n c6" style="top:732.09px">-</div>
<div class="t b n c7" style="top:732.09px">-</div>
<div class="t b l" style="top:741.49px">Amer. Samoa</div>
<div class="t b n c0 u" style="top:741.49px">U</div>
<div class="t b n c1 u" style="top:741.49px">U</div>
<div class="t b n c2 u" style="top:741.49px">U</div>
<div class="t b n c3 u" style="top:741.49px">U</div>
<div class="t b n c4 u" style="top:741.49px">U</div>
<div class="t b n c5 u" style="top:741.49px">U</div>
<div class="t b n c6 u" style="top:741.49px">U</div>
<div class="t b n c7 u" style="top:741.49px">U</div>
<div class="t b l" style="top:750.89px">C.N.M.I.</div>
<div class="t b n c0" style="top:750.89px">13</div>
<div class="t b n c1 u" style="top:750.89px">U</div>
<div class="t b n c2" style="top:750.89px">-</div>
<div class="t b n c3 u" style="top:750.89px">U</div>
<div class="t b n c4" style="top:750.89px">27</div>
<div class="t b n c5 u" style="top:750.89px">U</div>
<div class="t b n c6" style="top:750.89px">-</div>
<div class="t b n c7 u" style="top:750.89px">U</div>
<div class="t f" style="left:6.1px;top:765.59px;word-spacing:-1.2px">N: Not notifiable.</div>
<div class="t f" style="left:96.2px;top:765.59px;word-spacing:-1.2px">U: Unavailable.</div>
<div class="t f" style="left:186.4px;top:765.59px">- : No reported cases.</div>
<div class="t f" style="left:7.0px;top:773.99px">*</div>
<div class="t f" style="left:14.0px;top:773.99px">Incidence data for reporting year 2001 and 2002 are provisional and cumulative (year-to-date).</div>
</body></html>
